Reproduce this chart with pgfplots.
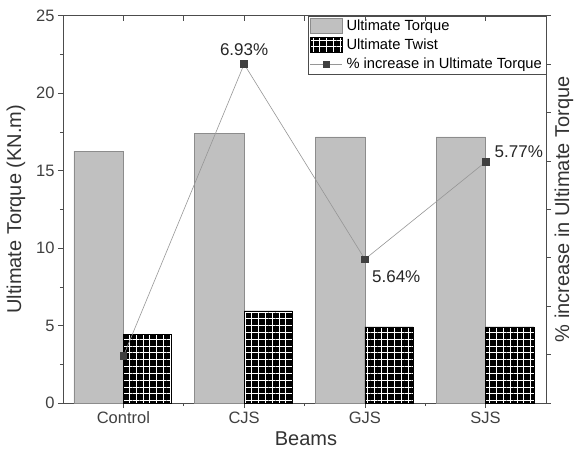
\documentclass[border=0pt]{standalone}
\usepackage{fontspec}
\setmainfont{Liberation Sans}
\usepackage{pgfplots}
\pgfplotsset{compat=1.18}
\usetikzlibrary{patterns.meta}
\definecolor{barg}{RGB}{192,192,192}
\definecolor{bare}{RGB}{140,140,140}
\definecolor{lineg}{RGB}{150,150,150}
\definecolor{markg}{RGB}{64,64,64}
\tikzset{gridfill/.style={fill=black, postaction={pattern={Hatch[angle=0,distance=6.8pt,line width=0.6pt]}, pattern color=white}}}
\begin{document}
\begin{tikzpicture}
\begin{axis}[
 name=main, scale only axis, width=483pt, height=387.3pt,
 xmin=0.5, xmax=4.5, ymin=0, ymax=25,
 xtick={1,2,3,4}, xticklabels={Control,CJS,GJS,SJS},
 minor xtick={1.5,2.5,3.5},
 ytick={0,5,...,25}, minor ytick={2.5,7.5,...,22.5},
 xtick pos=bottom, ytick pos=left, tick align=outside,
 major tick length=5pt, minor tick length=3pt,
 tick style={black!70, line width=0.6pt},
 axis line style={black!70, line width=0.8pt},
 ticklabel style={font=\fontsize{16.5}{19}\selectfont, text=black!75},
 /pgf/number format/assume math mode=true,
 xlabel={Beams}, ylabel={Ultimate Torque (KN.m)},
 label style={font=\fontsize{20}{24}\selectfont, text=black!80},
 xlabel style={at={(axis description cs:0.503,-0.091)}, anchor=center, inner sep=0pt},
 ylabel style={at={(axis description cs:-0.0973,0.5)}, anchor=center},
]
\addplot[draw=bare, fill=barg, ybar, bar width=0.41, bar shift=-0.205, line width=0.6pt] coordinates {(1,16.26) (2,17.42) (3,17.18) (4,17.18)};
\addplot[draw=black, gridfill, ybar, bar width=0.4, bar shift=0.2, line width=0.5pt] coordinates {(1,4.43) (2,5.95) (3,4.92) (4,4.92)};
\end{axis}
\begin{axis}[
 scale only axis, width=483pt, height=387.3pt,
 xmin=0.5, xmax=4.5, ymin=0, ymax=8,
 axis y line*=right, axis x line=none,
 ytick={0,...,8}, yticklabels={}, tick align=outside,
 major tick length=5pt,
 tick style={black!70, line width=0.6pt},
 axis line style={black!70, line width=0.8pt},
 ylabel={\% increase in Ultimate Torque},
 label style={font=\fontsize{20}{24}\selectfont, text=black!80},
 ylabel style={at={(axis description cs:1.0373,0.5)}, anchor=center, rotate=0},
 legend style={at={(1,1)}, anchor=north east, draw=black!70, fill=white,
   font=\fontsize{14.7}{17}\selectfont, inner xsep=2pt, inner ysep=2pt,
   cells={anchor=west}, row sep=3pt, column sep=2pt},
]
\addlegendimage{legend image code/.code={\draw[draw=bare, fill=barg] (0pt,-7.5pt) rectangle (32pt,7.5pt);}}
\addlegendentry{Ultimate Torque}
\addlegendimage{legend image code/.code={\draw[black, gridfill] (0pt,-7.5pt) rectangle (32pt,7.5pt);}}
\addlegendentry{Ultimate Twist}
\addplot[lineg, line width=0.6pt, mark=square*, mark size=3.4pt, mark options={fill=markg, draw=markg},
  legend image code/.code={\draw[lineg, line width=0.6pt] (0pt,0pt) -- (32pt,0pt); \fill[markg] (13pt,-3pt) rectangle (19pt,3pt);}]
  coordinates {(1,0.97) (2,7) (3,2.97) (4,4.98)};
\addlegendentry{\% increase in Ultimate Torque}
\node[font=\fontsize{17}{20}\selectfont, text=black!85] at (axis cs:2,7.3) {6.93\%};
\node[font=\fontsize{17}{20}\selectfont, text=black!85] at (axis cs:3.26,2.6) {5.64\%};
\node[font=\fontsize{17}{20}\selectfont, text=black!85] at (axis cs:4.275,5.19) {5.77\%};
\end{axis}
\begin{axis}[
 scale only axis, width=483pt, height=387.3pt,
 xmin=0.5, xmax=4.5, ymin=0, ymax=1,
 axis x line*=top, axis y line=none,
 xtick={1,2,3,4}, minor xtick={1.5,2.5,3.5}, xticklabels={},
 tick align=inside, major tick length=5pt, minor tick length=5pt,
 tick style={black!70, line width=0.6pt},
 axis line style={black!70, line width=0.8pt},
]
\end{axis}
\pgfresetboundingbox
\path[use as bounding box] (-63pt,-45pt) rectangle (511pt,403pt);
\end{tikzpicture}
\end{document}
